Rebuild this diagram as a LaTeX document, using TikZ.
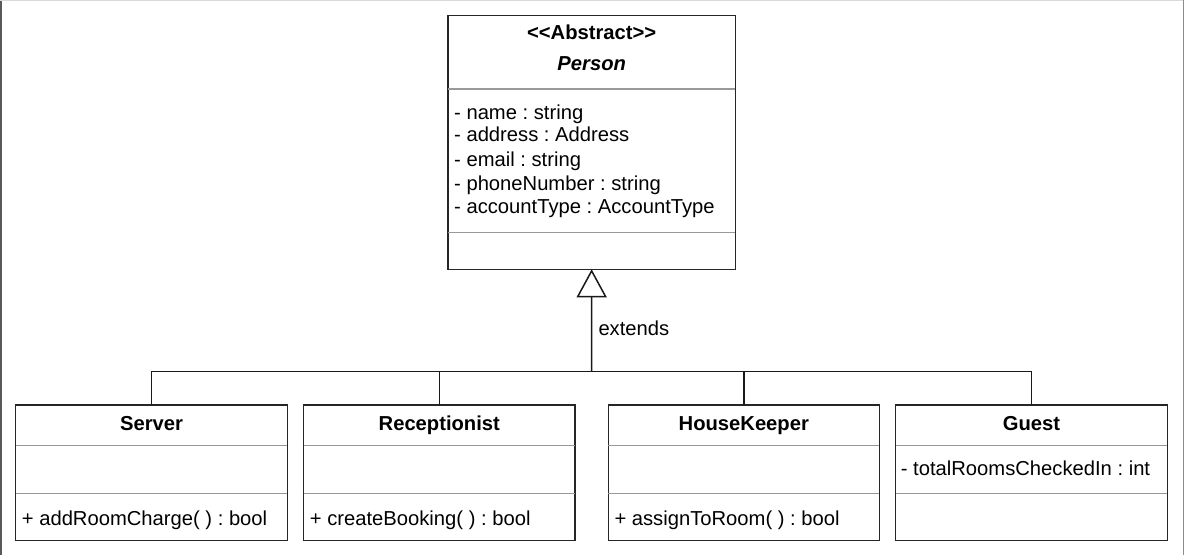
\documentclass[tikz,border=0pt]{standalone}
\usepackage{fontspec}
\setmainfont{Liberation Sans}
\usetikzlibrary{arrows.meta}
\frenchspacing
\begin{document}
\begin{tikzpicture}[x=1pt,y=-1pt,
  umlbox/.style={draw=black!85,line width=1.5pt,inner sep=0pt,outer sep=0pt,rectangle,anchor=north west},
  sep/.style={draw=black!40,line width=1.5pt},
  txt/.style={font=\fontsize{20.2}{24}\selectfont\frenchspacing,inner sep=0pt,anchor=base west},
  ttl/.style={font=\fontsize{20.2}{24}\selectfont\bfseries,inner sep=0pt,anchor=base},
  conn/.style={draw=black!90,line width=1.5pt}
]
\useasboundingbox (0,0) rectangle (1184,555);
\fill[white] (0,0) rectangle (1184,555);
\draw[black!65,line width=1.5pt] (0.75,0) -- (0.75,555);
\draw[black!15,line width=1pt] (0,0.5) -- (1184,0.5);
\draw[black!45,line width=1pt] (1183.3,0) -- (1183.3,555);

% Person
\node[umlbox,minimum width=287.3pt,minimum height=253.6pt] (person) at (448,15.7) {};
\draw[sep] (448,89) -- (735.3,89);
\draw[sep] (448,232.3) -- (735.3,232.3);
\node[ttl] (pst) at (591.7,39.5) {<\kern0pt<Abstract>\kern0pt>};
\node[ttl,font=\fontsize{20.2}{24}\selectfont\bfseries\itshape] (pnm) at (591.7,70.7) {Person};
\node[txt] (a1) at (454,119) {- name : string};
\node[txt] (a2) at (454,141.7) {- address : Address};
\node[txt] (a3) at (454,166.7) {- email : string};
\node[txt] (a4) at (454,190) {- phoneNumber : string};
\node[txt] (a5) at (454,213.3) {- accountType : AccountType};

% Subclasses
\node[umlbox,minimum width=271.6pt,minimum height=135.5pt] (server) at (15.7,405) {};
\node[umlbox,minimum width=271.3pt,minimum height=135.5pt] (recep) at (303.7,405) {};
\node[umlbox,minimum width=271pt,minimum height=135.5pt] (hk) at (608.3,405) {};
\node[umlbox,minimum width=271.6pt,minimum height=135.5pt] (guest) at (895.7,405) {};
\foreach \l/\r in {15.7/287.3,303.7/575,608.3/879.3,895.7/1167.3}{
  \draw[sep] (\l,445.7) -- (\r,445.7);
  \draw[sep] (\l,493.3) -- (\r,493.3);
}
\node[ttl] (st) at (151.5,430) {Server};
\node[ttl] (rt) at (439.3,430) {Receptionist};
\node[ttl] (ht) at (743.8,430) {HouseKeeper};
\node[ttl] (gt) at (1031.5,430) {Guest};
\node[txt] (sm) at (21.7,525.7) {+ addRoomCharge( ) : bool};
\node[txt] (rm) at (309.7,525.7) {+ createBooking( ) : bool};
\node[txt] (hm) at (614.3,525.7) {+ assignToRoom( ) : bool};
\node[txt] (ga) at (900.7,475) {- totalRoomsCheckedIn : int};

% Generalization
\coordinate (jn) at (591.7,371.5);
\draw[conn] (server.north) |- (jn);
\draw[conn] (recep.north) |- (jn);
\draw[conn] (hk.north) |- (jn);
\draw[conn] (guest.north) |- (jn);
\draw[conn,-{Triangle[open,width=30pt,length=28pt,line width=1.5pt]}] (jn) -- (person.south);
\node[txt] (ext) at (598.3,335) {extends};
\end{tikzpicture}
\end{document}
